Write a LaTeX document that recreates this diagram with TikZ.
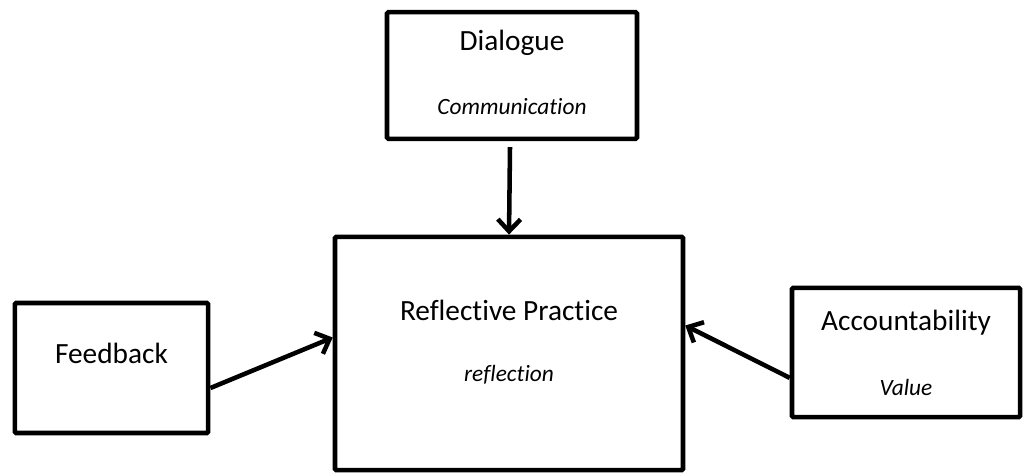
\documentclass[tikz,border=0pt]{standalone}
\usepackage{fontspec}
\setmainfont{Carlito}[Ligatures={NoCommon}]
\usetikzlibrary{arrows.meta, positioning}

\begin{document}
\begin{tikzpicture}[x=0.75pt, y=-0.75pt,
                    box/.style={draw, line width=3.4pt, rounded corners=1pt, inner sep=0pt},
                    title/.style={font=\fontsize{22}{26}\selectfont},
                    sub/.style={font=\fontsize{17.5}{21}\selectfont\itshape},
                    conn/.style={line width=3.4pt, -{Straight Barb[length=9pt, width=17pt, line width=3.4pt]}}]
                        % Page:
                        \useasboundingbox (0,0) rectangle (1023,472);

                        % Boxes:
                        \node [box, minimum width=187.5pt, minimum height=95pt] (dlg) at (512,75.5) {};
                        \node [box, minimum width=261pt, minimum height=175pt] (rp) at (509,353.5) {};
                        \node [box, minimum width=145pt, minimum height=97.5pt] (fb) at (111.5,368) {};
                        \node [box, minimum width=171pt, minimum height=97pt] (acc) at (906,352.5) {};

                        % Texts:
                        \node [title] (dlgtxt) at (512,43) {Dialogue};
                        \node [sub] (dlgsub) at (512,107) {Communication};
                        \node [title] (rptxt) at (509,310) {Reflective Practice};
                        \node [sub] (rpsub) at (509,375) {reflection};
                        \node [title] (fbtxt) at (111.5,353) {Feedback};
                        \node [title] (acctxt) at (906,323) {Accountability};
                        \node [sub] (accsub) at (906,387) {Value};

                        % Arrows:
                        \draw [conn] ([xshift=-1.5pt, yshift=-4.5pt]dlg.south) -- (rp.north);
                        \draw [conn] ([yshift=-15pt]fb.east) -- ([yshift=12pt]rp.west);
                        \draw [conn] ([yshift=-19pt]acc.west) -- ([yshift=21pt]rp.east);
                    \end{tikzpicture}
\end{document}
